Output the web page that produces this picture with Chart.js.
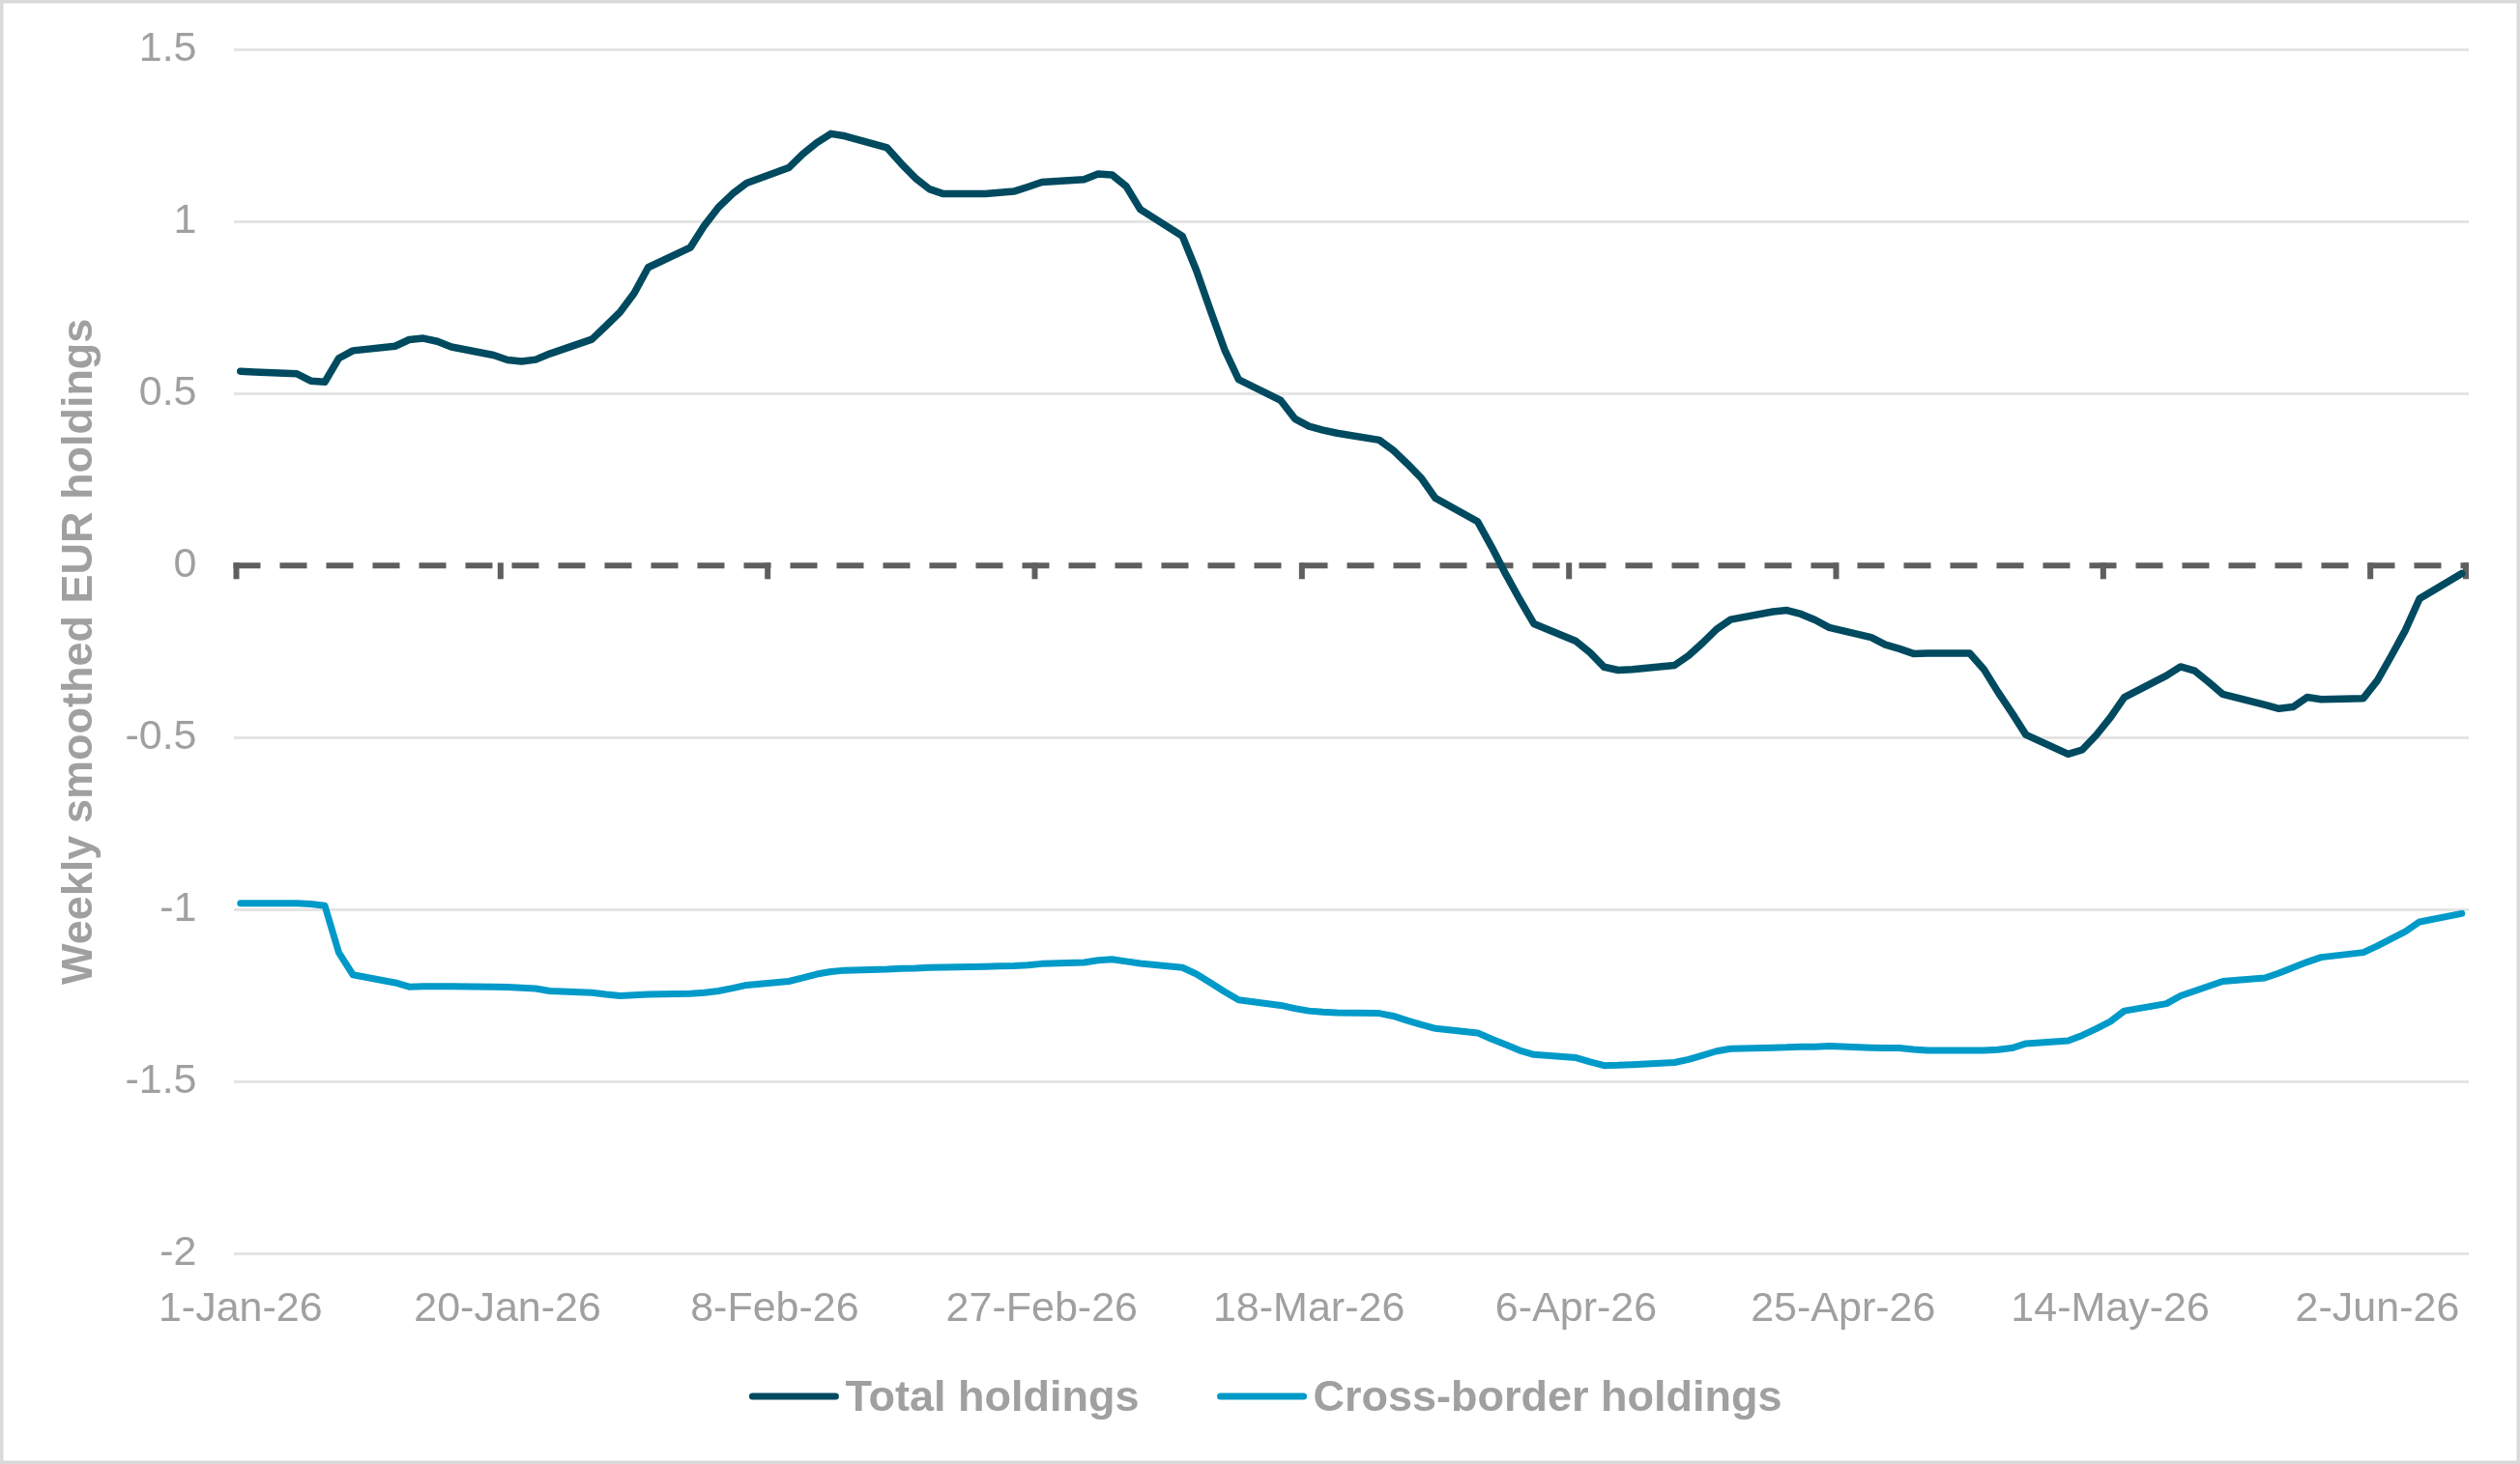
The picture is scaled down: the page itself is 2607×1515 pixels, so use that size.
<!DOCTYPE html>
<html>
<head>
<meta charset="utf-8">
<title>Weekly smoothed EUR holdings</title>
<script src="https://cdn.jsdelivr.net/npm/chart.js@4.4.0/dist/chart.umd.min.js"></script>
<style>
    html, body { margin: 0; padding: 0; background: #fff; }
    canvas { display: block; }
</style>
</head>
<body>
<canvas id="holdings-chart" width="2607" height="1515"></canvas>
<script>
// business days from 1-Jan-26 to 8-Jun-26, kept as day offsets from 1-Jan
// (date axis, so weekends are just straight segments like in Excel)
const lastDay = 158;
const days = [];
for (let d = 0; d <= lastDay; d++) {
    const wd = new Date(Date.UTC(2026, 0, 1 + d)).getUTCDay();
    if (wd !== 0 && wd !== 6) days.push(d);
}

// one row per week (Mon..Fri)
const totalHoldings = [
    0.565, 0.563,
    0.558, 0.537, 0.534, 0.603, 0.625,
    0.638, 0.657, 0.661, 0.652, 0.636,
    0.612, 0.598, 0.594, 0.599, 0.616,
    0.658, 0.697, 0.737, 0.792, 0.867,
    0.925, 0.989, 1.042, 1.081, 1.112,
    1.157, 1.197, 1.230, 1.256, 1.249,
    1.215, 1.169, 1.127, 1.095, 1.081,
    1.081, 1.085, 1.088, 1.101, 1.115,
    1.123, 1.139, 1.136, 1.103, 1.036,
    0.958, 0.858, 0.741, 0.628, 0.541,
    0.480, 0.427, 0.405, 0.394, 0.385,
    0.365, 0.335, 0.296, 0.254, 0.196,
    0.128, 0.054, -0.025, -0.099, -0.169,
    -0.220, -0.253, -0.295, -0.304, -0.302,
    -0.290, -0.262, -0.225, -0.185, -0.157,
    -0.134, -0.130, -0.141, -0.158, -0.180,
    -0.209, -0.230, -0.242, -0.256, -0.255,
    -0.255, -0.301, -0.367, -0.428, -0.492,
    -0.548, -0.536, -0.493, -0.442, -0.383,
    -0.320, -0.294, -0.306, -0.339, -0.374,
    -0.405, -0.416, -0.411, -0.383, -0.389,
    -0.386, -0.334, -0.262, -0.187, -0.096,
    -0.023
];

const crossBorderHoldings = [
    -0.982, -0.982,
    -0.982, -0.984, -0.989, -1.126, -1.190,
    -1.213, -1.225, -1.224, -1.224, -1.224,
    -1.225, -1.226, -1.228, -1.230, -1.237,
    -1.242, -1.247, -1.251, -1.249, -1.247,
    -1.245, -1.242, -1.237, -1.229, -1.220,
    -1.209, -1.199, -1.188, -1.181, -1.177,
    -1.174, -1.172, -1.171, -1.169, -1.168,
    -1.166, -1.165, -1.164, -1.162, -1.158,
    -1.154, -1.148, -1.145, -1.151, -1.157,
    -1.169, -1.188, -1.213, -1.239, -1.263,
    -1.279, -1.288, -1.295, -1.298, -1.300,
    -1.302, -1.310, -1.323, -1.335, -1.346,
    -1.359, -1.377, -1.393, -1.410, -1.422,
    -1.431, -1.443, -1.454, -1.453, -1.451,
    -1.445, -1.436, -1.424, -1.412, -1.405,
    -1.402, -1.401, -1.399, -1.399, -1.397,
    -1.402, -1.403, -1.403, -1.407, -1.410,
    -1.410, -1.410, -1.408, -1.403, -1.390,
    -1.382, -1.366, -1.347, -1.326, -1.295,
    -1.274, -1.251, -1.237, -1.223, -1.209,
    -1.199, -1.185, -1.169, -1.153, -1.139,
    -1.125, -1.106, -1.085, -1.064, -1.036,
    -1.012
];

const tickDays = [0, 19, 38, 57, 76, 95, 114, 133, 152];
const tickLabels = ['1-Jan-26', '20-Jan-26', '8-Feb-26', '27-Feb-26', '18-Mar-26',
    '6-Apr-26', '25-Apr-26', '14-May-26', '2-Jun-26'];

const FONT = '"Liberation Sans", Arial, sans-serif';
const textGrey = '#a0a0a0';

function toPoints(values) {
    return values.map((v, i) => ({ x: days[i], y: v }));
}

// white background + thin grey frame round the picture
const chartFrame = {
    id: 'chartFrame',
    beforeDraw(chart) {
        const c = chart.ctx;
        c.save();
        c.fillStyle = '#fff';
        c.fillRect(0, 0, chart.width, chart.height);
        c.restore();
    },
    afterDraw(chart) {
        const c = chart.ctx;
        c.save();
        c.strokeStyle = '#d9d9d9';
        c.lineWidth = 3.5;
        c.strokeRect(1.75, 1.75, chart.width - 3.5, chart.height - 3.5);
        c.restore();
    }
};

// dashed horizontal axis at zero with its little tick marks
const zeroAxis = {
    id: 'zeroAxis',
    beforeDatasetsDraw(chart) {
        const c = chart.ctx;
        const area = chart.chartArea;
        const x = chart.scales.x;
        const zeroY = chart.scales.y.getPixelForValue(0);
        c.save();
        c.strokeStyle = '#5f5f5f';
        c.lineWidth = 6;
        c.setLineDash([28, 20]);
        c.beginPath();
        c.moveTo(area.left, zeroY);
        c.lineTo(area.right, zeroY);
        c.stroke();
        c.setLineDash([]);
        const marks = tickDays.map(d => d - 0.5).concat([x.max]);
        marks.forEach(m => {
            let px = x.getPixelForValue(m);
            px = Math.min(Math.max(px, area.left + 3), area.right - 3);
            c.beginPath();
            c.moveTo(px, zeroY - 3);
            c.lineTo(px, zeroY + 14);
            c.stroke();
        });
        c.restore();
    }
};

// legend drawn by hand: Excel style line + bold grey label
const lineLegend = {
    id: 'lineLegend',
    afterDraw(chart) {
        const c = chart.ctx;
        const lineLen = 92, gap = 7, itemGap = 81;
        c.save();
        c.font = 'bold 45px ' + FONT;
        const items = chart.data.datasets.map(ds => ({
            text: ds.label,
            color: ds.borderColor,
            w: c.measureText(ds.label).width
        }));
        let total = 0;
        items.forEach((it, i) => { total += lineLen + gap + it.w + (i > 0 ? itemGap : 0); });
        let x = chart.width / 2 + 6 - total / 2;
        const y = 1445;
        items.forEach(it => {
            c.strokeStyle = it.color;
            c.lineWidth = 7;
            c.lineCap = 'round';
            c.beginPath();
            c.moveTo(x + 3, y);
            c.lineTo(x + lineLen - 3, y);
            c.stroke();
            c.fillStyle = textGrey;
            c.textBaseline = 'alphabetic';
            c.fillText(it.text, x + lineLen + gap, y + 15);
            x += lineLen + gap + it.w + itemGap;
        });
        c.restore();
    }
};

let ctx = document.getElementById('holdings-chart').getContext('2d');

let myChart = new Chart(ctx, {
    type: 'line',
    data: {
        datasets: [{
            label: 'Total holdings',
            data: toPoints(totalHoldings),
            borderColor: '#004a60',
            backgroundColor: '#004a60',
            borderWidth: 7.5
        }, {
            label: 'Cross-border holdings',
            data: toPoints(crossBorderHoldings),
            borderColor: '#009ac9',
            backgroundColor: '#009ac9',
            borderWidth: 7
        }]
    },
    options: {
        responsive: false,
        animation: false,
        devicePixelRatio: 1,
        layout: {
            padding: { left: 56, right: 53, top: 51.5, bottom: 0 }
        },
        elements: {
            point: { radius: 0, hoverRadius: 0 },
            line: { tension: 0, borderCapStyle: 'round', borderJoinStyle: 'round' }
        },
        plugins: {
            legend: { display: false },
            tooltip: { enabled: false }
        },
        scales: {
            x: {
                type: 'linear',
                min: -0.5,
                max: lastDay + 0.5,
                afterBuildTicks: (scale) => {
                    scale.ticks = tickDays.map(v => ({ value: v }));
                },
                afterFit: (scale) => {
                    scale.height = 218;
                },
                grid: { display: false, drawTicks: false },
                border: { display: false },
                ticks: {
                    autoSkip: false,
                    maxRotation: 0,
                    padding: 32,
                    color: textGrey,
                    font: { family: FONT, size: 43 },
                    callback: (value, index) => tickLabels[index]
                }
            },
            y: {
                min: -2,
                max: 1.5,
                afterFit: (scale) => {
                    scale.width = 185.5;
                    // tick padding would otherwise push the plot down
                    scale.paddingTop = 0;
                    scale.paddingBottom = 0;
                },
                grid: {
                    drawTicks: false,
                    lineWidth: 3,
                    color: (c) => (c.tick && c.tick.value === 0) ? 'rgba(0,0,0,0)' : '#e4e4e4'
                },
                border: { display: false },
                ticks: {
                    stepSize: 0.5,
                    padding: 38,
                    color: textGrey,
                    font: { family: FONT, size: 43 },
                    callback: (value) => String(value)
                },
                title: {
                    display: true,
                    text: 'Weekly smoothed EUR holdings',
                    color: textGrey,
                    padding: 0,
                    font: { family: FONT, size: 45, weight: 'bold' }
                }
            }
        }
    },
    plugins: [chartFrame, zeroAxis, lineLegend]
});
</script>
</body>
</html>
